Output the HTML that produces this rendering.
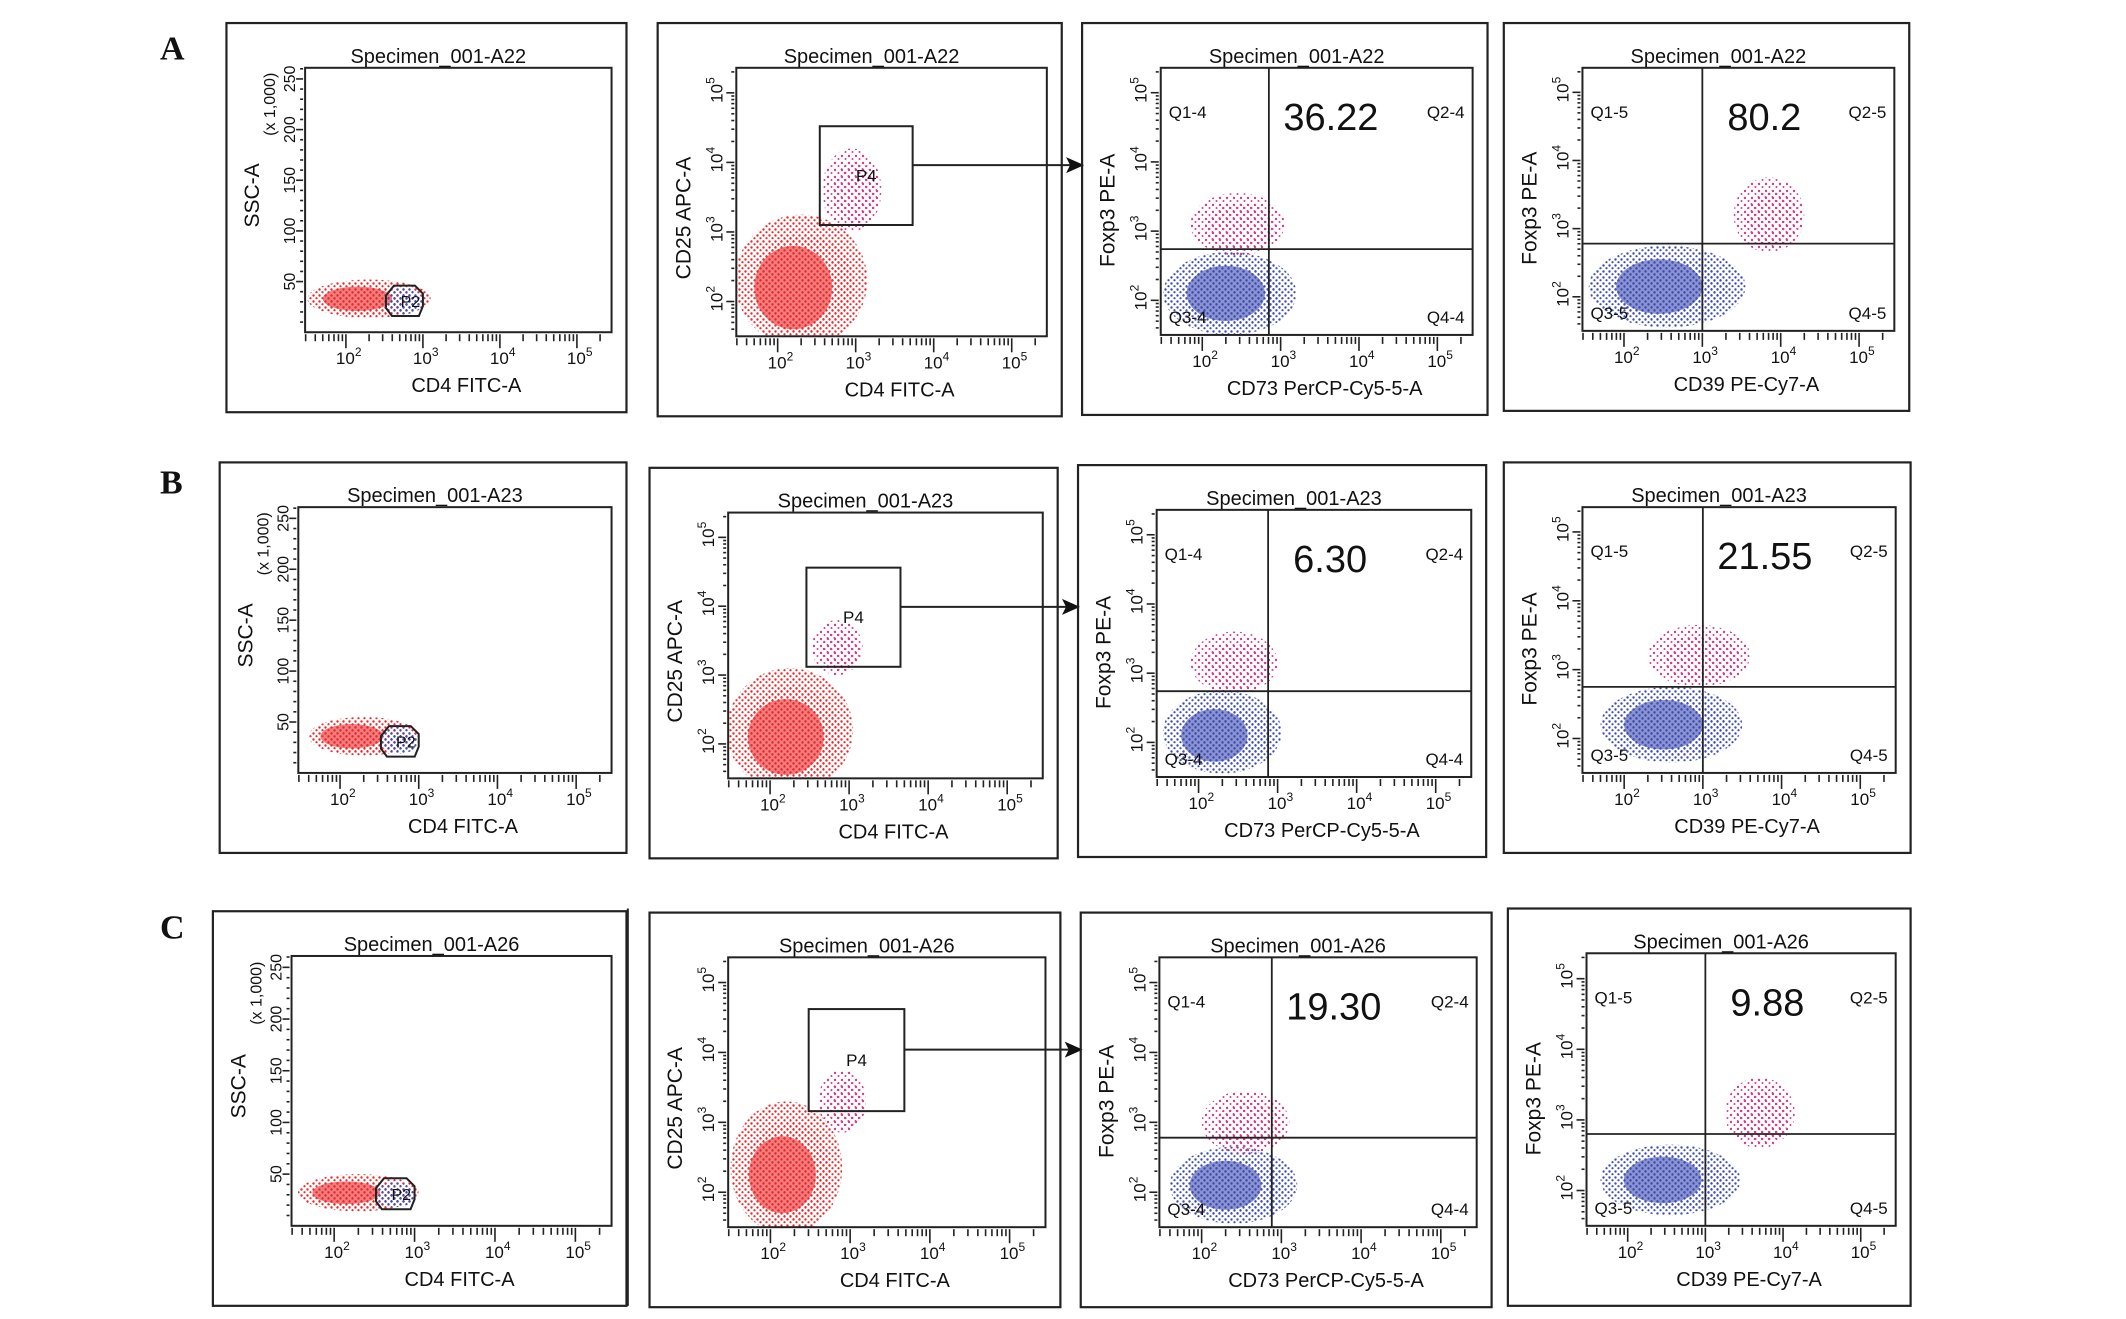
<!DOCTYPE html>
<html><head><meta charset="utf-8"><style>
html,body{margin:0;padding:0;background:#fff;}
svg{display:block;font-family:"Liberation Sans",sans-serif;}
</style></head><body>
<svg id="fig" width="2126" height="1319" viewBox="0 0 2126 1319" xmlns="http://www.w3.org/2000/svg">
<defs>
<pattern id="pr" width="6" height="6" patternUnits="userSpaceOnUse"><circle cx="1.5" cy="1.5" r="1.2" fill="#e8282a"/><circle cx="4.5" cy="4.2" r="1.1" fill="#e8282a"/></pattern>
<pattern id="pb" width="6" height="6" patternUnits="userSpaceOnUse"><circle cx="1.5" cy="1.5" r="1.2" fill="#3d4cb0"/><circle cx="4.5" cy="4.2" r="1.1" fill="#3d4cb0"/></pattern>
<pattern id="pp" width="7" height="7" patternUnits="userSpaceOnUse"><circle cx="2" cy="2" r="1.2" fill="#d23c8e"/><circle cx="5.5" cy="5" r="1" fill="#d23c8e"/></pattern>
</defs>
</svg>
<script>
// ---- data ----
const rowLetters = ["A","B","C"];
const specimens = ["Specimen_001-A22","Specimen_001-A23","Specimen_001-A26"];
const q73Values = ["36.22","6.30","19.30"];
const q39Values = ["80.2","21.55","9.88"];
const q73Vline = [2.85, 2.88, 2.88];
const q73Hline = [2.74, 2.74, 2.78];
const q39Vline = [3.0, 3.0, 3.0];
const q39Hline = [2.78, 2.75, 2.8];
const gateX0 = [2.54, 2.46, 2.48];
const gateX1 = [3.73, 3.65, 3.68];
const gateY0 = [3.1, 3.12, 3.16];
const gateY1 = [4.52, 4.56, 4.62];
const logTicks = [2,3,4,5];
const sscTicks = [50,100,150,200,250];
// clusters: panel index (row*4+col), centre x/y, radii (decades or SSC units), colour
const clPanel = [0,0,0,1,1,1,2,2,2,3,3,3, 4,4,4,5,5,5,6,6,6,7,7,7, 8,8,8,9,9,9,10,10,10,11,11,11];
const clX  = [2.3,2.15,2.75, 2.3,2.2,2.95, 2.35,2.3,2.45, 2.55,2.45,3.85, 2.3,2.15,2.75, 2.25,2.2,2.85, 2.3,2.2,2.45, 2.6,2.5,2.95, 2.3,2.15,2.75, 2.2,2.15,2.9, 2.4,2.3,2.55, 2.55,2.45,3.7];
const clY  = [33,33,31, 2.3,2.2,3.6, 2.1,2.1,3.1, 2.15,2.15,3.2, 36,36,32, 2.2,2.1,3.4, 2.15,2.1,3.15, 2.2,2.2,3.2, 32,32,30, 2.35,2.25,3.3, 2.1,2.1,3.0, 2.15,2.15,3.1];
const clRX = [0.8,0.45,0.25, 0.85,0.5,0.38, 0.85,0.5,0.6, 1.0,0.55,0.45, 0.7,0.4,0.24, 0.8,0.48,0.32, 0.75,0.42,0.55, 0.9,0.5,0.65, 0.75,0.42,0.25, 0.7,0.42,0.3, 0.8,0.45,0.55, 0.9,0.5,0.45];
const clRY = [19,12,13, 0.95,0.6,0.6, 0.6,0.4,0.45, 0.6,0.4,0.55, 19,12,13, 0.9,0.55,0.4, 0.6,0.38,0.45, 0.55,0.36,0.45, 18,11,12, 0.95,0.55,0.45, 0.55,0.35,0.45, 0.5,0.33,0.5];
const clCol = ["r","R","b", "r","R","p", "b","B","p", "b","B","p", "r","R","b", "r","R","p", "b","B","p", "b","B","p", "r","R","b", "r","R","p", "b","B","p", "b","B","p"];

// ---- layout (preview px, scaled) ----
const S = 1.356;
const boxes = [
 [167,17,462,304],[485,17,783,307],[798,17,1097,306],[1109,17,1408,303],
 [162,341,462,629],[479,345,780,633],[795,343,1096,632],[1109,341,1409,629],
 [157,672,462,963],[479,673,782,964],[797,673,1100,964],[1112,670,1409,963]];
const XD=[1.47,5.45], YD=[1.5,5.36], SD=[0,261];
const svg=document.getElementById('fig');
const NS="http://www.w3.org/2000/svg";
function mk(tag,at,parent){const e=document.createElementNS(NS,tag);for(const k in at)e.setAttribute(k,at[k]);(parent||svg).appendChild(e);return e;}
function txt(x,y,s,size,at,parent){const e=mk('text',Object.assign({x:x,y:y,'font-size':size,fill:'#111'},at||{}),parent);e.textContent=s;return e;}

const colMap={r:'url(#pr)',b:'url(#pb)',p:'url(#pp)',R:'#e8282a',B:'#3d4cb0'};

// row letters
rowLetters.forEach((L,i)=>{
  const t=txt(118*S,[44,364,692][i]*S,L,34,{'font-family':'Liberation Serif, serif','font-weight':'bold'});
  
  
});

boxes.forEach((b,pi)=>{
  const row=Math.floor(pi/4), col=pi%4;
  const g=mk('g',{});
  
  
  const bx=b[0]*S, by=b[1]*S, bw=(b[2]-b[0])*S, bh=(b[3]-b[1])*S;
  const frame=mk('rect',{x:bx,y:by,width:bw,height:bh,fill:'none',stroke:'#222','stroke-width':2.2},g);
  
  
  const L=bx+58*S, R=bx+bw-11*S, T=by+33*S, B=by+bh-59*S;
  const sx=v=>L+(v-XD[0])/(XD[1]-XD[0])*(R-L);
  const sy=v=>B-(v-YD[0])/(YD[1]-YD[0])*(B-T);
  const ss=v=>B-(v-SD[0])/(SD[1]-SD[0])*(B-T);
  const yf = col===0? ss: sy;
  const cid='clip'+pi;
  const cp=mk('clipPath',{id:cid},g); mk('rect',{x:L,y:T,width:R-L,height:B-T},cp);
  // clusters
  const cg=mk('g',{'clip-path':'url(#'+cid+')'},g);
  
  
  for(let i=0;i<clPanel.length;i++){
    if(clPanel[i]!==pi) continue;
    const cx=sx(clX[i]), cy=yf(clY[i]);
    const rx=clRX[i]/(XD[1]-XD[0])*(R-L);
    const ry= col===0 ? clRY[i]/(SD[1]-SD[0])*(B-T) : clRY[i]/(YD[1]-YD[0])*(B-T);
    const c=clCol[i];
    if(c==='R'||c==='B'){
      const e=mk('ellipse',{cx:cx,cy:cy,rx:rx,ry:ry,fill:colMap[c],opacity:0.6},cg);
      
      
    } else {
      const e=mk('ellipse',{cx:cx,cy:cy,rx:rx,ry:ry,fill:colMap[c]},cg);
      
      
      const e2=mk('ellipse',{cx:cx,cy:cy,rx:rx*0.75,ry:ry*0.75,fill:colMap[c],transform:'translate(3 3)'},cg);
      
      
    }
  }
  // plot frame
  const pf=mk('rect',{x:L,y:T,width:R-L,height:B-T,fill:'none',stroke:'#222','stroke-width':2},g);
  
  
  // x ticks (log)
  const tg=mk('g',{stroke:'#222','stroke-width':1.6},g);
  
  
  for(let d=1;d<=5;d++) for(let m=1;m<10;m++){
    const v=d+Math.log10(m); if(v<XD[0]||v>XD[1]) continue;
    const x=sx(v); mk('line',{x1:x,x2:x,y1:B+2,y2:B+(m===1?16:9)},tg);
  }
  logTicks.forEach(k=>{
    const t=txt(sx(k)-10,B+32,'10',17,{},g);
    const s=mk('tspan',{dy:-8,'font-size':12},t); s.textContent=String(k);
    
    
  });
  const xl=['CD4 FITC-A','CD4 FITC-A','CD73 PerCP-Cy5-5-A','CD39 PE-Cy7-A'][col];
  const xt=txt((L+R)/2+8,B+60,xl,20,{'text-anchor':'middle'},g);
  
  
  const tt=txt((L+R)/2-20,T-5,specimens[row],20,{'text-anchor':'middle'},g);
  
  
  // y ticks
  const yg=mk('g',{stroke:'#222','stroke-width':1.6},g);
  
  
  if(col===0){
    for(let v=10;v<=260;v+=10){const y=ss(v); mk('line',{x1:L-2,x2:L-(v%50===0?9:5),y1:y,y2:y},yg);}
    sscTicks.forEach(v=>{
      const y=ss(v), x=L-10;
      const t=txt(x,y,String(v),16,{'text-anchor':'middle',transform:'rotate(-90 '+x+' '+y+')'},g);
      
      
    });
    const ux=L-30, uy=ss(225);
    const u=txt(ux,uy,'(x 1,000)',16,{'text-anchor':'middle',transform:'rotate(-90 '+ux+' '+uy+')'},g);
    
    
    const ax=L-46, ay=ss(135);
    const a=txt(ax,ay,'SSC-A',21,{'text-anchor':'middle',transform:'rotate(-90 '+ax+' '+ay+')'},g);
    
    
  } else {
    for(let d=1;d<=5;d++) for(let m=1;m<10;m++){
      const v=d+Math.log10(m); if(v<YD[0]||v>YD[1]) continue;
      const y=sy(v); mk('line',{x1:L-2,x2:L-(m===1?10:5),y1:y,y2:y},yg);
    }
    logTicks.forEach(k=>{
      const y=sy(k)+10, x=L-14;
      const t=txt(x,y,'10',17,{transform:'rotate(-90 '+x+' '+y+')'},g);
      const s=mk('tspan',{dy:-8,'font-size':12},t); s.textContent=String(k);
      
      
    });
    const yl=col===1?'CD25 APC-A':'Foxp3 PE-A';
    const ax=L-46, ay=col===1?sy(3.2):sy(3.3);
    const a=txt(ax,ay,yl,21,{'text-anchor':'middle',transform:'rotate(-90 '+ax+' '+ay+')'},g);
    
    
  }
  if(col===0){
    const gx0=sx(2.52), gx1=sx(3.0), gy0=ss(16), gy1=ss(46);
    const p=mk('path',{d:`M${gx0+6} ${gy0} L${gx1-4} ${gy0} L${gx1} ${gy0-10} L${gx1} ${gy1+8} L${gx1-8} ${gy1} L${gx0+8} ${gy1} L${gx0} ${gy1+10} L${gx0} ${gy0-8} Z`,fill:'none',stroke:'#222','stroke-width':2},g);
    
    
    const t=txt((gx0+gx1)/2+6,(gy0+gy1)/2+6,'P2',16,{'text-anchor':'middle'},g);
    
    
  }
  if(col===1){
    const x0=sx(gateX0[row]), x1=sx(gateX1[row]), y0=sy(gateY1[row]), y1=sy(gateY0[row]);
    const r=mk('rect',{x:x0,y:y0,width:x1-x0,height:y1-y0,fill:'none',stroke:'#222','stroke-width':2},g);
    
    
    const t=txt((x0+x1)/2,(y0+y1)/2+6,'P4',17,{'text-anchor':'middle'},g);
    
    
    // arrow to next panel
    const ay=sy((gateY0[row]+gateY1[row])/2+0.15);
    const nx=boxes[pi+1][0]*S+2;
    const ar=mk('g',{},svg);
    
    
    mk('line',{x1:x1,x2:nx-14,y1:ay,y2:ay,stroke:'#222','stroke-width':2},ar);
    mk('path',{d:`M${nx} ${ay} L${nx-18} ${ay-8} L${nx-14} ${ay} L${nx-18} ${ay+8} Z`,fill:'#111'},ar);
  }
  if(col>=2){
    const vx=sx(col===2?q73Vline[row]:q39Vline[row]);
    const hy=sy(col===2?q73Hline[row]:q39Hline[row]);
    const v=mk('line',{x1:vx,x2:vx,y1:T,y2:B,stroke:'#222','stroke-width':1.8},g);
    
    
    const h=mk('line',{x1:L,x2:R,y1:hy,y2:hy,stroke:'#222','stroke-width':1.8},g);
    
    
    const sfx=col===2?'4':'5';
    const labs=[['Q1-'+sfx,L+8,T+50,'start'],['Q2-'+sfx,R-8,T+50,'end'],['Q3-'+sfx,L+8,B-12,'start'],['Q4-'+sfx,R-8,B-12,'end']];
    labs.forEach((q,qi)=>{
      const t=txt(q[1],q[2],q[0],17,{'text-anchor':q[3]},g);
      
      
    });
    const val=col===2?q73Values[row]:q39Values[row];
    const t=txt(vx+62,T+62,val,38,{'text-anchor':'middle'},g);
    
    
  }
});
// stray divider line in row C
const dl=mk('line',{x1:463*S,x2:463*S,y1:670*S,y2:963*S,stroke:'#222','stroke-width':2});


</script>
</body></html>
